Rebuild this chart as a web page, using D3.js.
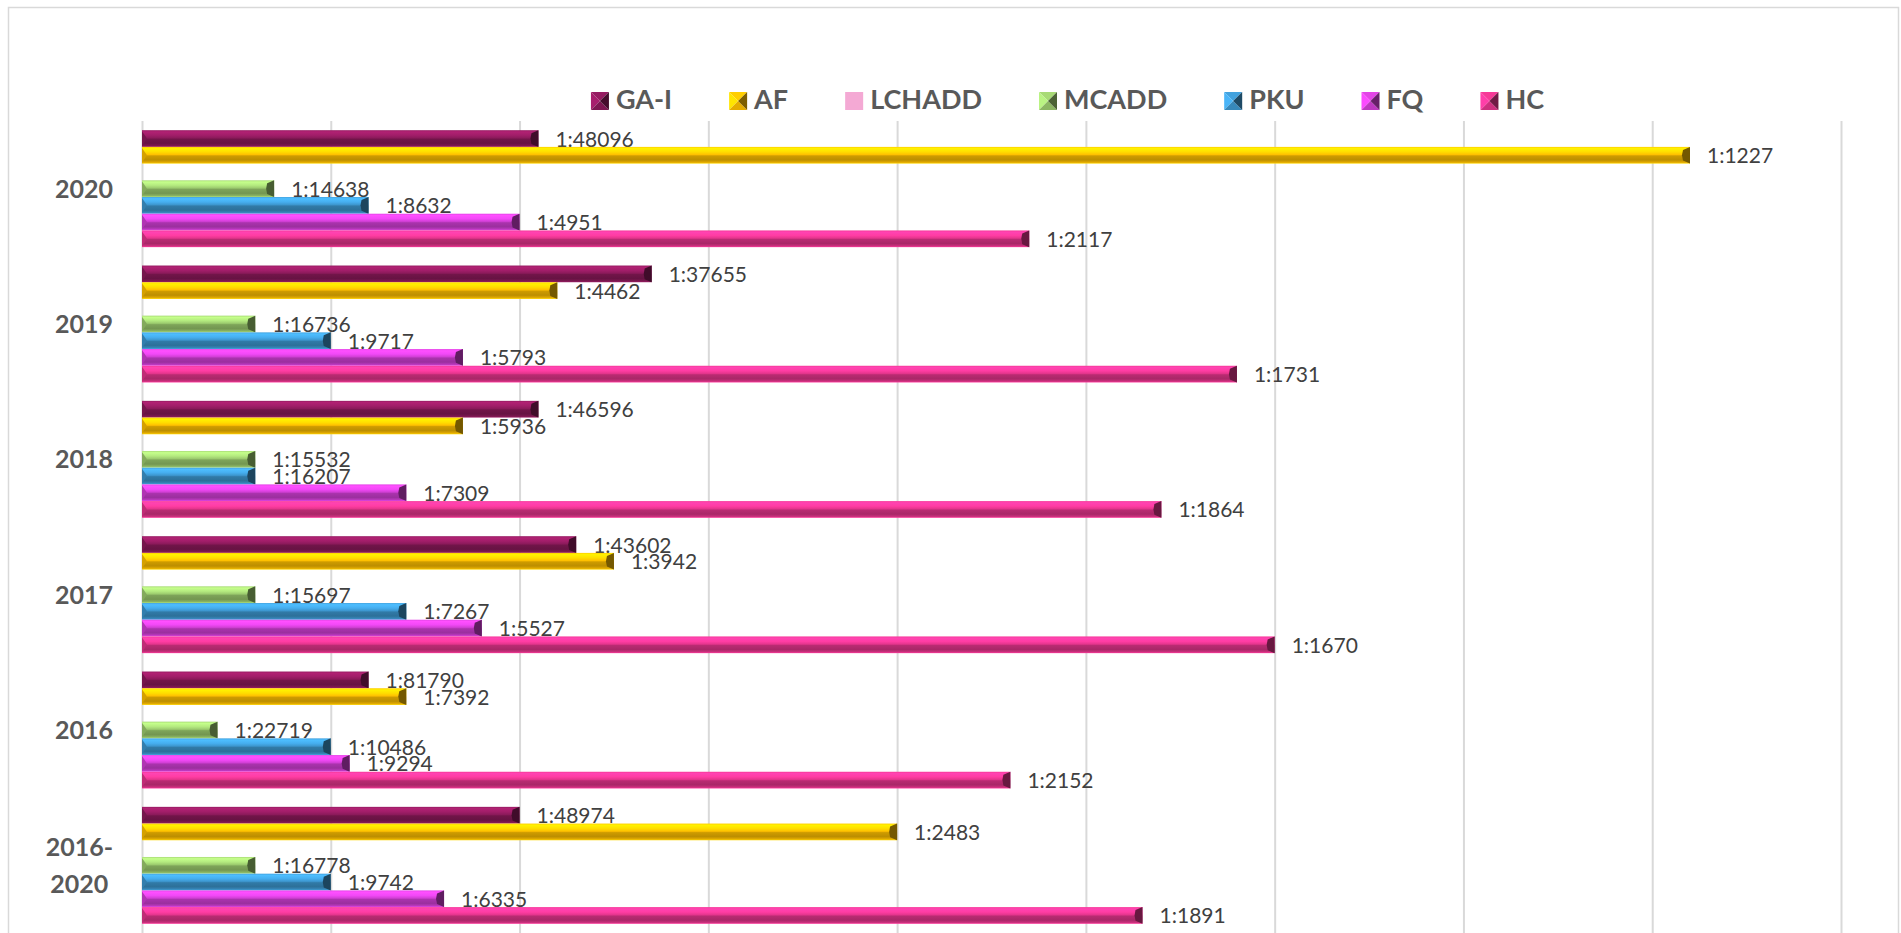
<!DOCTYPE html>
<html><head><meta charset="utf-8">
<script src="https://cdn.jsdelivr.net/npm/d3@7"></script>
<style>
html,body{margin:0;padding:0;background:#fff;}
svg{display:block;}
</style></head><body>
<svg id="chart" width="1901" height="933"></svg>
<script>
// Newborn screening: detected cases per year
const categories = ["2020", "2019", "2018", "2017", "2016", "2016-2020"];
const seriesNames = ["GA-I", "AF", "LCHADD", "MCADD", "PKU", "FQ", "HC"];

// incidence, shown as "1 case in N births" (bar labels)
const gaIRatio    = [48096, 37655, 46596, 43602, 81790, 48974];
const afRatio     = [1227, 4462, 5936, 3942, 7392, 2483];
const lchaddRatio = [null, null, null, null, null, null];
const mcaddRatio  = [14638, 16736, 15532, 15697, 22719, 16778];
const pkuRatio    = [8632, 9717, 16207, 7267, 10486, 9742];
const fqRatio     = [4951, 5793, 7309, 5527, 9294, 6335];
const hcRatio     = [2117, 1731, 1864, 1670, 2152, 1891];

// bar lengths: cases per 100 000 births (GA-I per 1 000 000), rounded
const gaIRate    = [21, 27, 21, 23, 12, 20];
const afRate     = [82, 22, 17, 25, 14, 40];
const lchaddRate = [null, null, null, null, null, null];
const mcaddRate  = [7, 6, 6, 6, 4, 6];
const pkuRate    = [12, 10, 6, 14, 10, 10];
const fqRate     = [20, 17, 14, 18, 11, 16];
const hcRate     = [47, 58, 54, 60, 46, 53];

const xTicks = [0, 10, 20, 30, 40, 50, 60, 70, 80, 90];
const colors = ["#8c1a5b", "#ffc000", "#f4a9d4", "#9ccb6e", "#3d97cf", "#d23fd6", "#e5358d"];

const seriesRatios = [gaIRatio, afRatio, lchaddRatio, mcaddRatio, pkuRatio, fqRatio, hcRatio];
const seriesRates = [gaIRate, afRate, lchaddRate, mcaddRate, pkuRate, fqRate, hcRate];

const W = 1901, H = 933;
const plot = { left: 142, right: 1841, top: 121, bottom: 933 };
const FONT = "Lato, 'Open Sans', 'Liberation Sans', sans-serif";

const svg = d3.select("#chart");
svg.append("rect").attr("width", W).attr("height", H).attr("fill", "#fff");
// chart frame
svg.append("rect")
  .attr("x", 8.5).attr("y", 7.5).attr("width", 1890).attr("height", 960)
  .attr("fill", "none").attr("stroke", "#d9d9d9").attr("stroke-width", 1.5);

const x = d3.scaleLinear().domain([0, 90]).range([plot.left, plot.right]);
const y = d3.scaleBand().domain(categories).range([plot.top, plot.bottom]).padding(0);
const ySeries = d3.scaleBand().domain(seriesNames).range([0, y.bandwidth()])
  .paddingInner(0).paddingOuter(0.55);

// vertical gridlines
const grid = svg.append("g")
  .attr("transform", `translate(0,${plot.top})`)
  .call(d3.axisBottom(x).tickValues(xTicks).tickSize(plot.bottom - plot.top).tickFormat(""));
grid.select(".domain").remove();
grid.selectAll(".tick line").attr("stroke", "#d9d9d9").attr("stroke-width", 2);

// bevel gradients
const defs = svg.append("defs");
colors.forEach((c, i) => {
  const base = d3.color(c);
  const g = defs.append("linearGradient").attr("id", "bev" + i)
    .attr("x1", 0).attr("y1", 0).attr("x2", 0).attr("y2", 1);
  const stops = [
    [0, base.brighter(0.2)],
    [0.1, base.brighter(0.65)],
    [0.3, base.brighter(0.4)],
    [0.46, base],
    [0.54, base.darker(0.6)],
    [0.78, base.darker(0.85)],
    [0.92, base.darker(0.35)],
    [1, base.brighter(0.3)]
  ];
  stops.forEach(([o, col]) => g.append("stop").attr("offset", o).attr("stop-color", col.formatHex()));
});

// bars
const bars = [];
categories.forEach((cat, ci) => {
  seriesNames.forEach((s, si) => {
    const v = seriesRates[si][ci];
    if (v == null) return;
    bars.push({ cat, s, si, v, n: seriesRatios[si][ci] });
  });
});

const barG = svg.append("g");
const bh = ySeries.bandwidth();
bars.forEach(b => {
  const x0 = x(0), x1 = x(b.v);
  const y0 = y(b.cat) + ySeries(b.s), y1 = y0 + bh, ym = y0 + bh / 2;
  const base = d3.color(colors[b.si]);
  const g = barG.append("g");
  g.append("rect").attr("x", x0).attr("y", y0).attr("width", x1 - x0).attr("height", bh)
    .attr("fill", `url(#bev${b.si})`);
  g.append("polygon")
    .attr("points", [[x0, y0 + 1], [x0 + 5, ym], [x0, y1 - 1]].map(p => p.join(",")).join(" "))
    .attr("fill", base.darker(0.5).formatHex());
  g.append("polygon")
    .attr("points", [[x1, y0], [x1 - 7, y0 + 3], [x1 - 8, ym], [x1 - 7, y1 - 3], [x1, y1]].map(p => p.join(",")).join(" "))
    .attr("fill", base.darker(2.2).formatHex());
  g.append("text")
    .attr("x", x1 + 17).attr("y", ym + 8)
    .attr("font-family", FONT).attr("font-size", 21).attr("fill", "#404040")
    .text("1:" + b.n);
});

// category axis
const yAxis = svg.append("g")
  .attr("transform", `translate(${plot.left},0)`)
  .call(d3.axisLeft(y).tickSize(0).tickFormat(""));
yAxis.select(".domain").remove();
yAxis.selectAll(".tick").each(function (cat) {
  const lines = cat.includes("-") ? [cat.slice(0, cat.indexOf("-") + 1), cat.slice(cat.indexOf("-") + 1)] : [cat];
  const t = d3.select(this).append("text")
    .attr("font-family", FONT).attr("font-weight", 700).attr("font-size", 25)
    .attr("fill", "#595959").attr("text-anchor", "middle");
  const spans = lines.map((ln, k) => t.append("tspan")
    .attr("y", (k - (lines.length - 1) / 2) * 37 + 9).text(ln));
  const maxW = d3.max(spans, sp => sp.node().getComputedTextLength());
  spans.forEach(sp => sp.attr("x", -(plot.left - 113) - maxW / 2));
});

// legend
const legend = svg.append("g");
let lx = 0;
const items = [];
seriesNames.forEach((s, i) => {
  const g = legend.append("g");
  const sz = 18;
  const c = d3.color(colors[i]);
  if (s === "LCHADD") {
    g.append("rect").attr("x", 0).attr("y", 0).attr("width", sz).attr("height", sz).attr("fill", c.formatHex());
  } else {
    const m = sz / 2;
    const faces = [
      [[[0, 0], [sz, 0], [m, m]], c.brighter(0.2)],
      [[[0, 0], [m, m], [0, sz]], c.brighter(0.5)],
      [[[0, sz], [m, m], [sz, sz]], c.darker(0.3)],
      [[[sz, 0], [sz, sz], [m, m]], c.darker(2)]
    ];
    faces.forEach(([pts, col]) => g.append("polygon")
      .attr("points", pts.map(p => p.join(",")).join(" ")).attr("fill", col.formatHex()));
  }
  const t = g.append("text").attr("x", sz + 7).attr("y", 17)
    .attr("font-family", FONT).attr("font-weight", 700).attr("font-size", 27)
    .attr("fill", "#595959").text(s);
  const tw = t.node().getComputedTextLength();
  items.push({ g, x: lx });
  lx += sz + 7 + tw + 57;
});
const legendW = lx - 57;
const legendStart = 1067.5 - legendW / 2;
items.forEach(it => it.g.attr("transform", `translate(${legendStart + it.x},92)`));
</script>
</body></html>
